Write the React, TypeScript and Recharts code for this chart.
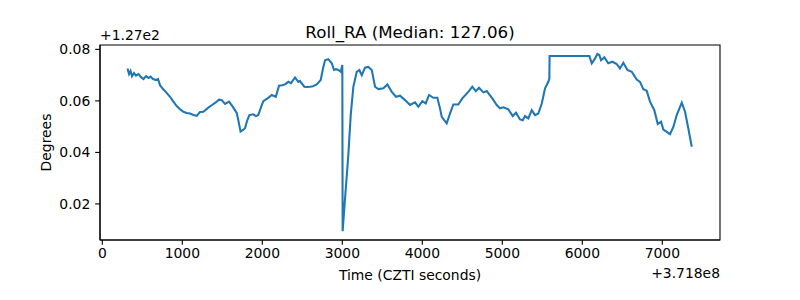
import React from "react";
import { LineChart, Line, XAxis, YAxis, ReferenceArea } from "recharts";

const times = [
  315, 334, 353, 371, 396, 421, 453, 484, 515, 546, 578, 603, 634, 671, 696, 721, 759, 796, 846, 884,
  930, 971, 1013, 1055, 1096, 1138, 1180, 1221, 1263, 1321, 1371, 1421, 1459, 1493, 1534, 1584, 1634, 1680, 1700, 1728,
  1759, 1784, 1809, 1838, 1888, 1921, 1950, 1984, 2013, 2075, 2118, 2168, 2209, 2246, 2284, 2325, 2359, 2409, 2450, 2471,
  2525, 2559, 2596, 2634, 2680, 2730, 2759, 2784, 2825, 2868, 2896, 2921, 2950, 2980, 3000, 3004, 3034, 3075, 3105, 3138,
  3180, 3213, 3243, 3284, 3325, 3368, 3409, 3450, 3513, 3563, 3618, 3671, 3721, 3784, 3846, 3909, 3950, 4000, 4043, 4084,
  4138, 4188, 4221, 4243, 4305, 4346, 4388, 4450, 4500, 4575, 4625, 4668, 4709, 4763, 4805, 4875, 4930, 4971, 5013, 5075,
  5130, 5171, 5221, 5255, 5284, 5325, 5368, 5409, 5450, 5493, 5534, 5575, 5588, 5591, 6088, 6118, 6159, 6188, 6213, 6234,
  6275, 6325, 6375, 6430, 6471, 6513, 6563, 6618, 6680, 6721, 6763, 6805, 6846, 6900, 6943, 6984, 7013, 7055, 7096, 7138,
  7180, 7243, 7284, 7325, 7368,
];

// Roll_RA minus 127 degrees
const rollOffset = [
  0.0726, 0.0704, 0.0716, 0.0696, 0.0708, 0.0698, 0.0704, 0.0692, 0.0685, 0.0696, 0.0689, 0.0694, 0.0685, 0.0681, 0.0685, 0.0661, 0.0646, 0.0634, 0.0616, 0.0599,
  0.058, 0.0568, 0.0558, 0.0553, 0.0551, 0.0545, 0.0542, 0.0557, 0.0558, 0.0573, 0.0584, 0.0595, 0.0605, 0.0603, 0.0588, 0.0597, 0.0576, 0.0553, 0.0525, 0.0481,
  0.0487, 0.0494, 0.0522, 0.0545, 0.0548, 0.0541, 0.0545, 0.0576, 0.0599, 0.0612, 0.0623, 0.0616, 0.0659, 0.0661, 0.0664, 0.0674, 0.0669, 0.0691, 0.0674, 0.0677,
  0.0655, 0.0654, 0.0655, 0.0657, 0.0664, 0.0681, 0.0727, 0.0758, 0.0762, 0.0746, 0.072, 0.0723, 0.072, 0.0713, 0.0739, 0.0094, 0.0221, 0.039, 0.0545, 0.0655,
  0.0713, 0.072, 0.07, 0.0729, 0.0732, 0.072, 0.0655, 0.0646, 0.0649, 0.0664, 0.0635, 0.0616, 0.062, 0.0603, 0.0584, 0.0594, 0.0577, 0.0599, 0.059, 0.0623,
  0.0612, 0.0612, 0.0571, 0.0538, 0.0513, 0.0551, 0.0586, 0.0586, 0.061, 0.0635, 0.0655, 0.0638, 0.0651, 0.0633, 0.0638, 0.061, 0.0584, 0.0571, 0.0575, 0.0567,
  0.0541, 0.0554, 0.0528, 0.0525, 0.0541, 0.0532, 0.0564, 0.0545, 0.0551, 0.059, 0.0649, 0.0674, 0.0687, 0.0774, 0.0774, 0.0746, 0.0765, 0.0782, 0.0778, 0.0758,
  0.0769, 0.0746, 0.0752, 0.0743, 0.0726, 0.0748, 0.072, 0.0713, 0.0683, 0.0674, 0.0645, 0.0639, 0.0597, 0.0564, 0.051, 0.0519, 0.0489, 0.048, 0.0471, 0.0499,
  0.0545, 0.0593, 0.0558, 0.0493, 0.0422,
];

const xTicks = [0, 1000, 2000, 3000, 4000, 5000, 6000, 7000];
const yTicks = [0.02, 0.04, 0.06, 0.08];
const xDomain: [number, number] = [-29, 7721];
const yDomain: [number, number] = [0.006, 0.0817];

const data = times.map((t, i) => ({ t, v: rollOffset[i] }));

const FONT = "DejaVu Sans";
const tickStyle = { fontSize: 13.9, fill: "#000", fontFamily: FONT };

export default function App() {
  return (
    <div style={{ position: "absolute", left: 0, top: 0, width: 800, height: 300, background: "#fff" }}>
      <LineChart width={800} height={300} data={data} margin={{ top: 45, right: 80, bottom: 30, left: 0 }}>
        <XAxis
          dataKey="t"
          type="number"
          domain={xDomain}
          ticks={xTicks}
          allowDataOverflow
          height={30}
          tickSize={4.86}
          tickMargin={3.5}
          tick={tickStyle}
          stroke="#000"
          tickLine={{ stroke: "#000", strokeWidth: 1.1 }}
          axisLine={{ stroke: "#000", strokeWidth: 1.1 }}
        />
        <YAxis
          type="number"
          domain={yDomain}
          ticks={yTicks}
          allowDataOverflow
          width={100}
          tickSize={4.86}
          tickMargin={4.86}
          tick={tickStyle}
          tickFormatter={(v: number) => v.toFixed(2)}
          stroke="#000"
          tickLine={{ stroke: "#000", strokeWidth: 1.1 }}
          axisLine={{ stroke: "#000", strokeWidth: 1.1 }}
        />
        <ReferenceArea
          x1={xDomain[0]}
          x2={xDomain[1]}
          y1={yDomain[0]}
          y2={yDomain[1]}
          fill="none"
          fillOpacity={0}
          stroke="#000"
          strokeWidth={1.1}
        />
        <Line
          type="linear"
          dataKey="v"
          stroke="#1f77b4"
          strokeWidth={2.08}
          dot={false}
          isAnimationActive={false}
        />
      </LineChart>
      <svg
        width={800}
        height={300}
        style={{ position: "absolute", left: 0, top: 0, pointerEvents: "none" }}
        fontFamily={FONT}
      >
        <text x={410} y={38} textAnchor="middle" fontSize={16.7} fill="#000">
          Roll_RA (Median: 127.06)
        </text>
        <text x={100} y={40} textAnchor="start" fontSize={13.9} fill="#000">
          +1.27e2
        </text>
        <text x={720} y={278} textAnchor="end" fontSize={13.9} fill="#000">
          +3.718e8
        </text>
        <text x={410} y={280} textAnchor="middle" fontSize={13.9} fill="#000">
          Time (CZTI seconds)
        </text>
        <text
          x={51}
          y={142.5}
          textAnchor="middle"
          fontSize={13.9}
          fill="#000"
          transform="rotate(-90 51 142.5)"
        >
          Degrees
        </text>
      </svg>
    </div>
  );
}
